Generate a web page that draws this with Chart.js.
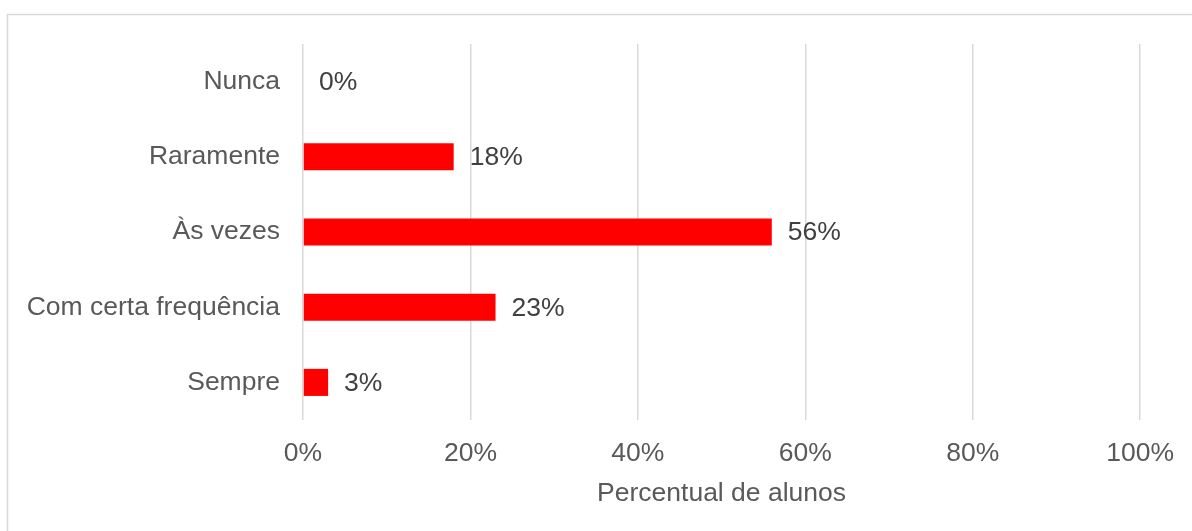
<!DOCTYPE html>
<html>
<head>
<meta charset="utf-8">
<script src="https://cdn.jsdelivr.net/npm/chart.js@4/dist/chart.umd.min.js"></script>
<style>
  html, body { margin: 0; padding: 0; background: #fff; }
  #wrap { width: 1192px; height: 531px; position: relative; }
</style>
</head>
<body>
<div id="wrap"><canvas id="freqChart" width="1192" height="531"></canvas></div>
<script>
var categorias = ['Nunca', 'Raramente', 'Às vezes', 'Com certa frequência', 'Sempre'];
var percentuais = [0, 18, 56, 23, 3];
var ticksX = [0, 20, 40, 60, 80, 100];

var fonte = '"Liberation Sans", Arial, sans-serif';
var tam = 26.5;

// moldura cinza em volta do gráfico
var moldura = {
  id: 'moldura',
  beforeDraw: function (chart) {
    var c = chart.ctx;
    c.save();
    c.fillStyle = '#ffffff';
    c.fillRect(0, 0, chart.width, chart.height);
    c.strokeStyle = '#d9d9d9';
    c.lineWidth = 1.5;
    c.strokeRect(7.5, 14.5, 1300, 600);
    c.restore();
  }
};

// rótulos de valor ao lado de cada barra
var rotulos = {
  id: 'rotulos',
  afterDatasetsDraw: function (chart) {
    var c = chart.ctx;
    var meta = chart.getDatasetMeta(0);
    c.save();
    c.font = tam + 'px ' + fonte;
    c.fillStyle = '#404040';
    c.textAlign = 'left';
    c.textBaseline = 'middle';
    meta.data.forEach(function (bar, i) {
      c.fillText(percentuais[i] + '%', bar.x + 16, bar.y + 1);
    });
    c.restore();
  }
};

var ctx = document.getElementById('freqChart').getContext('2d');
var freqChart = new Chart(ctx, {
  type: 'bar',
  data: {
    labels: categorias,
    datasets: [{
      label: 'Percentual de alunos',
      data: percentuais,
      backgroundColor: '#ff0000',
      borderWidth: 0,
      barPercentage: 0.36,
      categoryPercentage: 1
    }]
  },
  options: {
    indexAxis: 'y',
    responsive: false,
    animation: false,
    layout: { padding: { top: 44, right: 51, left: 0, bottom: 0 } },
    plugins: {
      legend: { display: false },
      tooltip: { enabled: false }
    },
    scales: {
      x: {
        min: 0,
        max: 100,
        afterBuildTicks: function (scale) {
          scale.ticks = ticksX.map(function (v) { return { value: v }; });
        },
        afterFit: function (scale) { scale.height = 111; },
        grid: { color: '#d9d9d9', lineWidth: 1.5, drawTicks: false },
        border: { display: false },
        ticks: {
          padding: 18,
          color: '#595959',
          font: { size: tam, family: fonte },
          callback: function (v) { return v + '%'; }
        },
        title: {
          display: true,
          text: 'Percentual de alunos',
          color: '#595959',
          font: { size: tam, family: fonte },
          padding: { top: 4, bottom: 21 }
        }
      },
      y: {
        afterFit: function (scale) { scale.width = 303; },
        grid: { display: false, drawTicks: false },
        border: { display: false },
        ticks: {
          padding: 23,
          color: '#595959',
          font: { size: tam, family: fonte }
        }
      }
    }
  },
  plugins: [moldura, rotulos]
});
</script>
</body>
</html>
